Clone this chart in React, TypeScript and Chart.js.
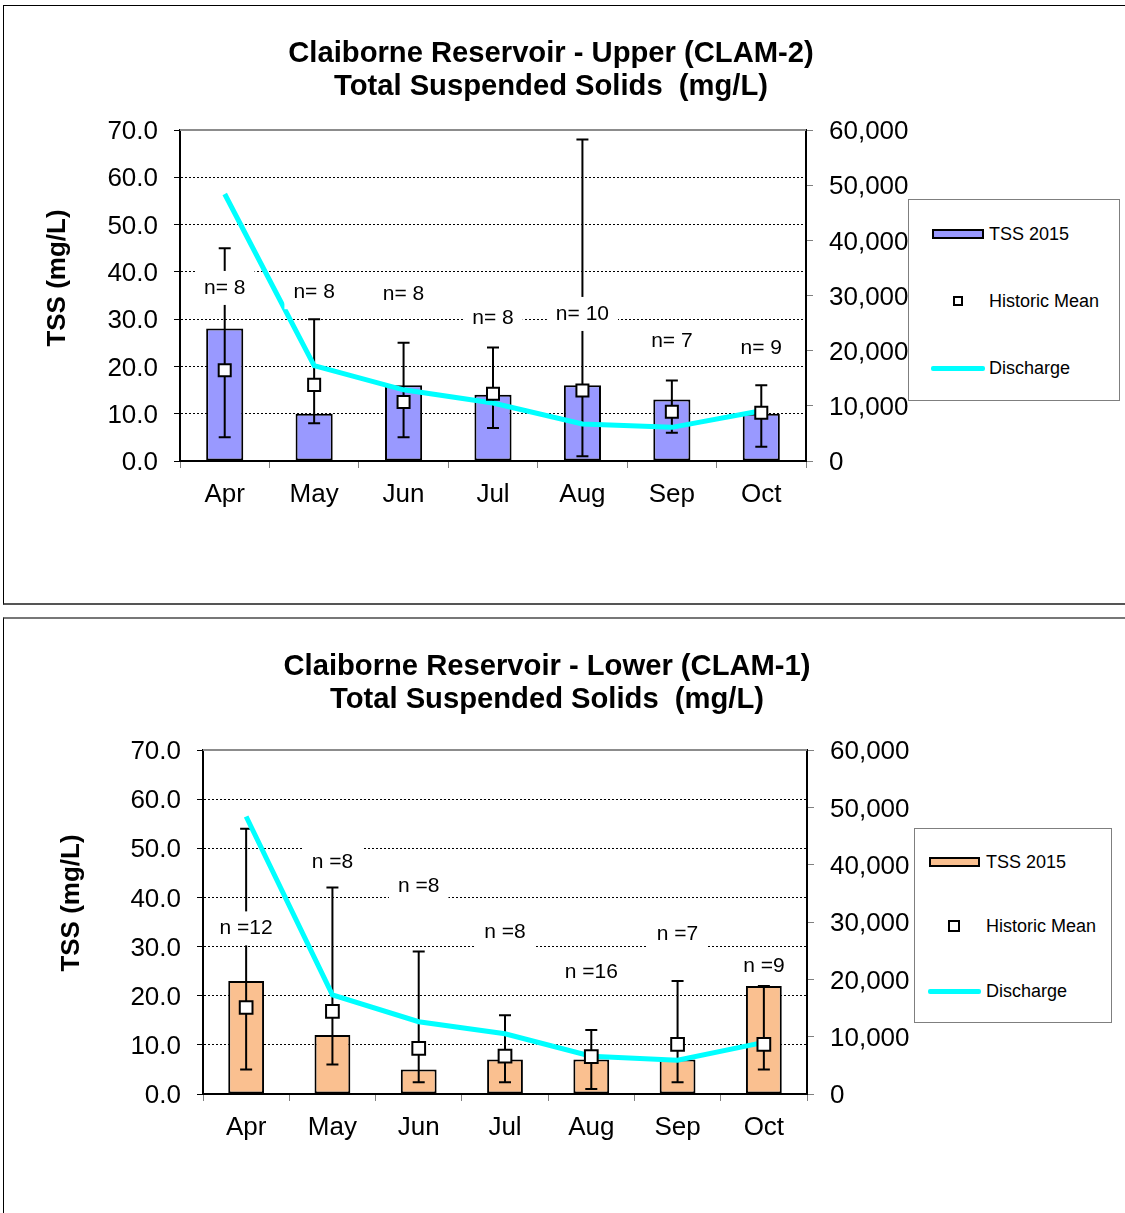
import React, { useEffect, useRef } from 'react';
import { Chart, registerables } from 'chart.js';

Chart.register(...registerables);

const FONT = "'Liberation Sans', Arial, Helvetica, sans-serif";

// ---------- shared ----------
const months = ['Apr', 'May', 'Jun', 'Jul', 'Aug', 'Sep', 'Oct'];
const legendLabels = ['TSS 2015', 'Historic Mean', 'Discharge'];
const yAxisTitle = 'TSS (mg/L)';

// ---------- Upper (CLAM-2) ----------
const upperTitle = ['Claiborne Reservoir - Upper (CLAM-2)', 'Total Suspended Solids  (mg/L)'];
const upperTss = [28, 10, 16, 14, 16, 13, 10];
const upperErrLow = [5, 8, 5, 7, 1, 6, 3];
const upperErrHigh = [45, 30, 25, 24, 68, 17, 16];
const upperMean = [19.2, 16.1, 12.5, 14.2, 14.9, 10.4, 10.2];
const upperDischarge = [48400, 17300, 12900, 10500, 6700, 6100, 9100];
const upperN = ['n= 8', 'n= 8', 'n= 8', 'n= 8', 'n= 10', 'n= 7', 'n= 9'];
const upperNLevel = [36.6, 35.7, 35.3, 30.2, 31.1, 25.4, 23.9];

// ---------- Lower (CLAM-1) ----------
const lowerTitle = ['Claiborne Reservoir - Lower (CLAM-1)', 'Total Suspended Solids  (mg/L)'];
const lowerTss = [23, 12, 5, 7, 7, 7, 22];
const lowerErrLow = [5, 6, 2.4, 2.4, 1, 2.4, 5];
const lowerErrHigh = [54, 42, 29, 16, 13, 23, 22];
const lowerMean = [17.6, 16.8, 9.3, 7.7, 7.6, 10.1, 10.1];
const lowerDischarge = [48400, 17300, 12600, 10500, 6600, 5900, 9000];
const lowerN = ['n =12', 'n =8', 'n =8', 'n =8', 'n =16', 'n =7', 'n =9'];
const lowerNLevel = [33.7, 47.1, 42.3, 32.9, 24.7, 32.5, 26.1];

type PanelCfg = {
  title: string[];
  tss: number[];
  errLow: number[];
  errHigh: number[];
  mean: number[];
  discharge: number[];
  nText: string[];
  nLevel: number[];
  barColor: string;
  // geometry (canvas placement)
  left: number;
  top: number;
  width: number;
  height: number;
  padRight: number;
  titleBottom: number;
  leftW: number;
  rightW: number;
  xH: number;
  yTitleX: number;
  yTitleY: number;
  markerR: number;
};

function ChartPanel({ cfg }: { cfg: PanelCfg }) {
  const ref = useRef<HTMLCanvasElement | null>(null);

  useEffect(() => {
    const canvas = ref.current;
    if (!canvas) return;

    const errorBars = {
      id: 'errorBars',
      afterDatasetDraw(chart: any, args: any) {
        if (args.index !== 0) return;
        const { ctx } = chart;
        const x = chart.scales.x;
        const y = chart.scales.y;
        ctx.save();
        ctx.strokeStyle = '#000';
        ctx.lineWidth = 2;
        cfg.errLow.forEach((lo, i) => {
          const cx = x.getPixelForValue(i);
          const yl = y.getPixelForValue(lo);
          const yh = y.getPixelForValue(cfg.errHigh[i]);
          ctx.beginPath();
          ctx.moveTo(cx, yl);
          ctx.lineTo(cx, yh);
          ctx.moveTo(cx - 6, yl);
          ctx.lineTo(cx + 6, yl);
          ctx.moveTo(cx - 6, yh);
          ctx.lineTo(cx + 6, yh);
          ctx.stroke();
        });
        ctx.restore();
      },
    };

    const frame = {
      id: 'frameTop',
      beforeDatasetsDraw(chart: any) {
        const { ctx, chartArea } = chart;
        ctx.save();
        ctx.strokeStyle = '#8c8c8c';
        ctx.lineWidth = 2;
        ctx.beginPath();
        ctx.moveTo(chartArea.left, chartArea.top);
        ctx.lineTo(chartArea.right, chartArea.top);
        ctx.stroke();
        ctx.restore();
      },
    };

    const nLabels = {
      id: 'nLabels',
      afterDatasetsDraw(chart: any) {
        const { ctx } = chart;
        const x = chart.scales.x;
        const y = chart.scales.y;
        ctx.save();
        ctx.font = `21px ${FONT}`;
        ctx.textAlign = 'center';
        ctx.textBaseline = 'middle';
        cfg.nText.forEach((t, i) => {
          const cx = x.getPixelForValue(i);
          const cy = y.getPixelForValue(cfg.nLevel[i]);
          const w = ctx.measureText(t).width;
          ctx.fillStyle = '#fff';
          ctx.fillRect(cx - w / 2 - 9, cy - 17, w + 18, 34);
          ctx.fillStyle = '#000';
          ctx.fillText(t, cx, cy);
        });
        ctx.restore();
      },
      afterDraw(chart: any) {
        const { ctx } = chart;
        ctx.save();
        ctx.translate(cfg.yTitleX, cfg.yTitleY);
        ctx.rotate(-Math.PI / 2);
        ctx.font = `bold 26px ${FONT}`;
        ctx.fillStyle = '#000';
        ctx.textAlign = 'center';
        ctx.textBaseline = 'middle';
        ctx.fillText(yAxisTitle, 0, 0);
        ctx.restore();
      },
    };

    const chart = new Chart(canvas, {
      type: 'bar',
      data: {
        labels: months,
        datasets: [
          {
            type: 'bar',
            label: legendLabels[0],
            data: cfg.tss,
            backgroundColor: cfg.barColor,
            borderColor: '#000',
            borderWidth: 2,
            borderSkipped: false,
            barPercentage: 0.415,
            categoryPercentage: 1,
            yAxisID: 'y',
            order: 3,
          } as any,
          {
            type: 'line',
            label: legendLabels[2],
            data: cfg.discharge,
            borderColor: '#00FFFF',
            backgroundColor: '#00FFFF',
            borderWidth: 5,
            pointRadius: 0,
            tension: 0,
            yAxisID: 'y2',
            order: 2,
          } as any,
          {
            type: 'line',
            label: legendLabels[1],
            data: cfg.mean,
            showLine: false,
            pointStyle: 'rect',
            pointRadius: cfg.markerR,
            pointBackgroundColor: '#fff',
            pointBorderColor: '#000',
            pointBorderWidth: 2,
            yAxisID: 'y',
            order: 1,
          } as any,
        ],
      },
      options: {
        responsive: false,
        animation: false,
        events: [],
        layout: { padding: { left: 0, right: cfg.padRight, top: 0, bottom: 0 } },
        plugins: {
          legend: { display: false },
          tooltip: { enabled: false },
          title: {
            display: true,
            text: cfg.title,
            color: '#000',
            font: { family: FONT, size: 29.2, weight: 'bold', lineHeight: 33 / 29.2 },
            padding: { top: 32, bottom: cfg.titleBottom },
          },
        },
        scales: {
          x: {
            grid: {
              display: true,
              offset: true,
              drawOnChartArea: false,
              drawTicks: true,
              tickLength: 7,
              tickColor: '#808080',
              tickWidth: 1,
            },
            border: { display: true, color: '#000', width: 2 },
            ticks: { color: '#000', font: { family: FONT, size: 26 }, padding: 11 },
            afterFit: (s: any) => {
              s.height = cfg.xH;
            },
          },
          y: {
            position: 'left',
            min: 0,
            max: 70,
            ticks: {
              stepSize: 10,
              color: '#000',
              font: { family: FONT, size: 26 },
              padding: 16,
              labelOffset: 2,
              callback: (v: any) => Number(v).toFixed(1),
            },
            grid: {
              color: (c: any) => (c.tick && (c.tick.value === 70 || c.tick.value === 0) ? 'rgba(0,0,0,0)' : '#000'),
              lineWidth: 1,
              tickLength: 6,
              tickColor: '#000',
              tickWidth: 1,
            },
            border: { display: true, color: '#000', width: 2, dash: [2, 2] },
            afterFit: (s: any) => {
              s.width = cfg.leftW;
            },
          },
          y2: {
            position: 'right',
            min: 0,
            max: 60000,
            ticks: {
              stepSize: 10000,
              color: '#000',
              font: { family: FONT, size: 26 },
              padding: 16,
              labelOffset: 2,
              callback: (v: any) => Number(v).toLocaleString('en-US'),
            },
            grid: {
              drawOnChartArea: false,
              drawTicks: true,
              tickLength: 7,
              tickColor: '#808080',
              tickWidth: 1,
            },
            border: { display: true, color: '#000', width: 2 },
            afterFit: (s: any) => {
              s.width = cfg.rightW;
            },
          },
        },
      } as any,
      plugins: [frame, errorBars, nLabels],
    });

    return () => chart.destroy();
  }, [cfg]);

  return (
    <canvas
      ref={ref}
      width={cfg.width}
      height={cfg.height}
      style={{ position: 'absolute', left: cfg.left, top: cfg.top, width: cfg.width, height: cfg.height }}
    />
  );
}

type LegendGeom = {
  left: number;
  top: number;
  width: number;
  height: number;
  swatchX: number;
  swatchW: number;
  textX: number;
  y1: number;
  y2: number;
  y3: number;
  markerX: number;
  markerS: number;
  barColor: string;
};

function Legend({ g }: { g: LegendGeom }) {
  const text = (y: number, t: string) => (
    <div
      style={{
        position: 'absolute',
        left: g.textX,
        top: y - 10,
        height: 20,
        lineHeight: '20px',
        fontSize: 18,
        fontFamily: FONT,
        color: '#000',
        whiteSpace: 'nowrap',
      }}
    >
      {t}
    </div>
  );
  return (
    <div
      style={{
        position: 'absolute',
        left: g.left,
        top: g.top,
        width: g.width,
        height: g.height,
        boxSizing: 'border-box',
        border: '1px solid #7f7f7f',
        background: '#fff',
      }}
    >
      <div
        style={{
          position: 'absolute',
          left: g.swatchX,
          top: g.y1 - 5,
          width: g.swatchW,
          height: 10,
          boxSizing: 'border-box',
          border: '2px solid #000',
          background: g.barColor,
        }}
      />
      {text(g.y1, legendLabels[0])}
      <div
        style={{
          position: 'absolute',
          left: g.markerX - g.markerS / 2,
          top: g.y2 - g.markerS / 2,
          width: g.markerS,
          height: g.markerS,
          boxSizing: 'border-box',
          border: '2px solid #000',
          background: '#fff',
        }}
      />
      {text(g.y2, legendLabels[1])}
      <div
        style={{
          position: 'absolute',
          left: g.swatchX - 1,
          top: g.y3 - 2.5,
          width: g.swatchW + 2,
          height: 5,
          background: '#00FFFF',
          borderRadius: 2,
        }}
      />
      {text(g.y3, legendLabels[2])}
    </div>
  );
}

const upperCfg: PanelCfg = {
  title: upperTitle,
  tss: upperTss,
  errLow: upperErrLow,
  errHigh: upperErrHigh,
  mean: upperMean,
  discharge: upperDischarge,
  nText: upperN,
  nLevel: upperNLevel,
  barColor: '#9999FF',
  left: 6,
  top: 5,
  width: 1119,
  height: 599,
  padRight: 29,
  titleBottom: 27,
  leftW: 174,
  rightW: 290,
  xH: 143,
  yTitleX: 52,
  yTitleY: 273,
  markerR: 8.5,
};

const lowerCfg: PanelCfg = {
  title: lowerTitle,
  tss: lowerTss,
  errLow: lowerErrLow,
  errHigh: lowerErrHigh,
  mean: lowerMean,
  discharge: lowerDischarge,
  nText: lowerN,
  nLevel: lowerNLevel,
  barColor: '#FAC090',
  left: 5,
  top: 618,
  width: 1120,
  height: 595,
  padRight: 36,
  titleBottom: 34,
  leftW: 198,
  rightW: 282,
  xH: 119,
  yTitleX: 67,
  yTitleY: 285,
  markerR: 9,
};

const upperLegend: LegendGeom = {
  left: 908,
  top: 199,
  width: 212,
  height: 202,
  swatchX: 23,
  swatchW: 52,
  textX: 80,
  y1: 34,
  y2: 101,
  y3: 168,
  markerX: 49,
  markerS: 10,
  barColor: '#9999FF',
};

const lowerLegend: LegendGeom = {
  left: 914,
  top: 828,
  width: 198,
  height: 195,
  swatchX: 14,
  swatchW: 51,
  textX: 71,
  y1: 33,
  y2: 97,
  y3: 162,
  markerX: 39,
  markerS: 12,
  barColor: '#FAC090',
};

export default function App() {
  return (
    <div style={{ position: 'absolute', left: 0, top: 0, width: 1125, height: 1213, overflow: 'hidden', background: '#fff' }}>
      <div
        style={{
          position: 'absolute',
          left: 3,
          top: 5,
          width: 1122,
          height: 600,
          boxSizing: 'border-box',
          borderTop: '1px solid #000',
          borderLeft: '1px solid #000',
          borderBottom: '2px solid #555',
        }}
      />
      <div
        style={{
          position: 'absolute',
          left: 3,
          top: 617,
          width: 1122,
          height: 596,
          boxSizing: 'border-box',
          borderTop: '2px solid #777',
          borderLeft: '1px solid #000',
        }}
      />
      <ChartPanel cfg={upperCfg} />
      <ChartPanel cfg={lowerCfg} />
      <Legend g={upperLegend} />
      <Legend g={lowerLegend} />
    </div>
  );
}
